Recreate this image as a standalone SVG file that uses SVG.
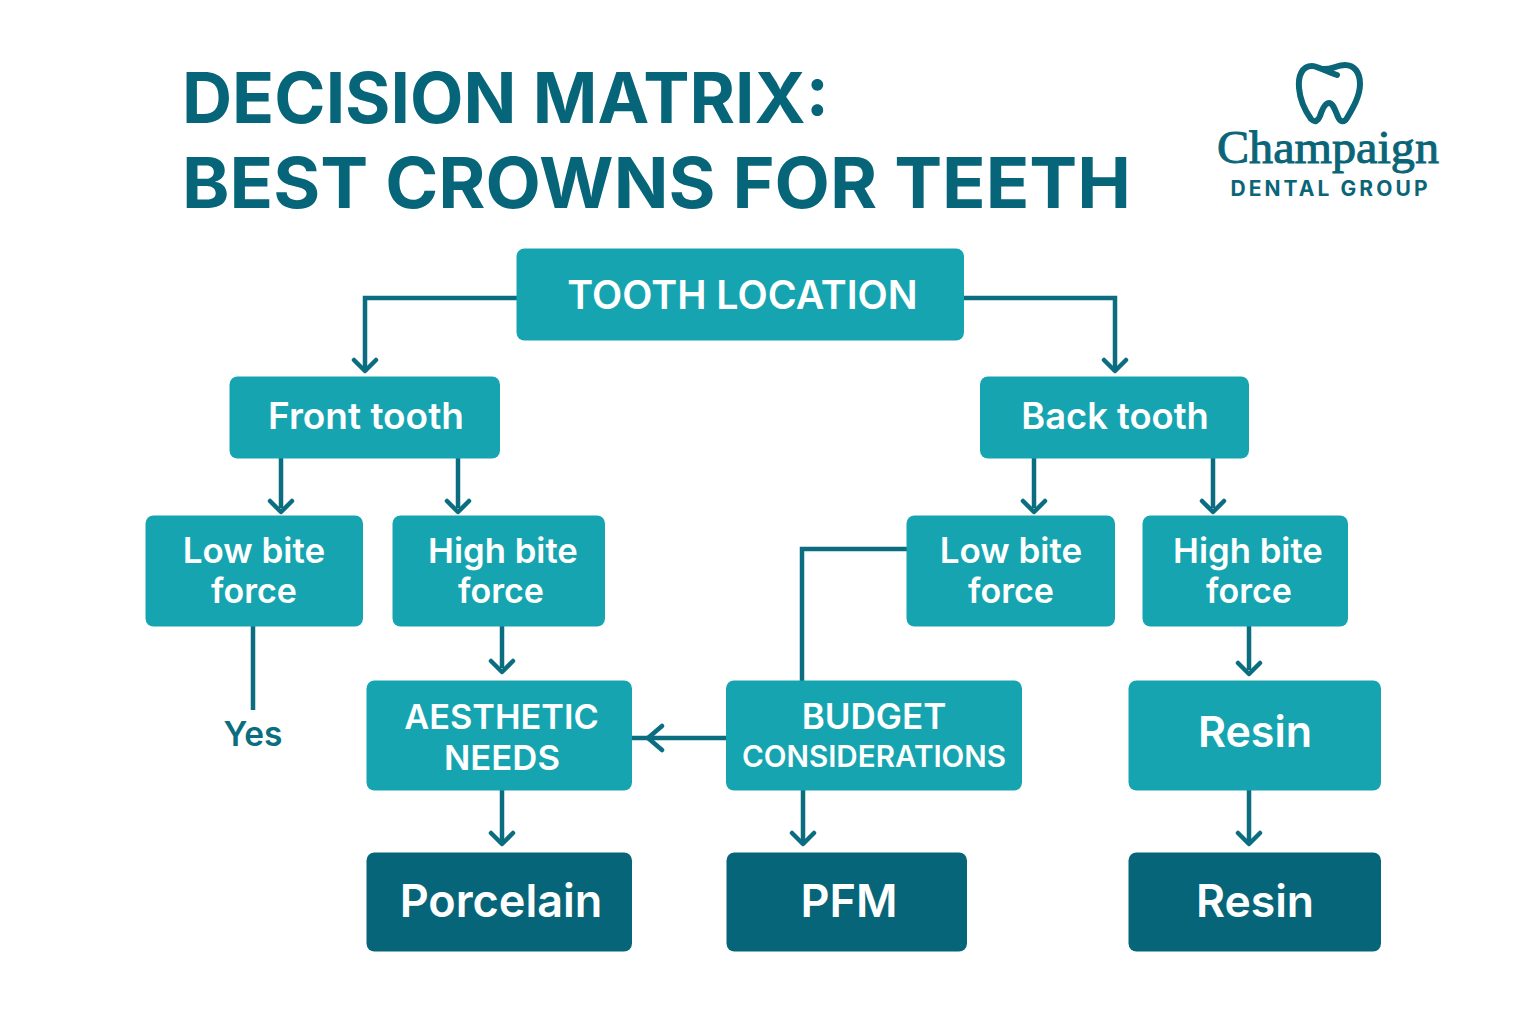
<svg xmlns="http://www.w3.org/2000/svg" width="1536" height="1017" viewBox="0 0 1536 1017">
<style>
.n{fill:#16a5b0}.d{fill:#066578}
.t{font-family:"Inter","Noto Sans",sans-serif;fill:#fff;text-anchor:middle;font-weight:600}
.c{fill:none;stroke:#0a6e80;stroke-width:4.5}
.a{fill:none;stroke:#0a6e80;stroke-width:4.5;stroke-linecap:round;stroke-linejoin:round}
.h{font-family:"Inter","Noto Sans",sans-serif;font-weight:700;font-size:70px;fill:#066578}
</style>
<rect width="1536" height="1017" fill="#fff"/>
<g id="title"><text class="h" x="182" y="123" textLength="647" lengthAdjust="spacingAndGlyphs">DECISION MATRIX:</text><text class="h" x="182" y="208" textLength="949" lengthAdjust="spacingAndGlyphs">BEST CROWNS FOR TEETH</text></g>
<g id="logo">
<path d="M1312 66C1302 66 1298 76 1299 88C1300 100 1306 112 1311 119C1315 123 1318 121 1320 116C1322 110 1325 103 1329 103C1333 103 1335 110 1338 117C1340 122 1344 123 1347 118C1353 108 1360 96 1360 84C1360 72 1354 65 1345 65C1337 65 1331 70 1322 69C1318 68 1316 66 1312 66ZM1322 69C1327 71 1334 74 1337 75" fill="none" stroke="#0a6578" stroke-width="6" stroke-linecap="round" stroke-linejoin="round"/>
<text x="1328" y="163" text-anchor="middle" font-family="'Liberation Serif',serif" font-size="47" fill="#0a6578" stroke="#0a6578" stroke-width="1" textLength="222" lengthAdjust="spacingAndGlyphs">Champaign</text>
<text x="1329" y="196" text-anchor="middle" font-family="Inter,'Noto Sans',sans-serif" font-weight="700" font-size="21" fill="#0a6578" textLength="197">DENTAL GROUP</text>
</g>
<g id="connectors">
<path class="c" d="M517 298H365V368M964 298H1115V368M281 458V508M458 458V508M1034 458V508M1213 458V508M502 626V668M1249 626V670M253 626V710M907 549H802V681M727 738H632M502 790V841M803 790V841M1249 790V841"/>
<path class="a" d="M354 360L365 371L376 360M1104 360L1115 371L1126 360M270 501L281 512L292 501M447 501L458 512L469 501M1023 501L1034 512L1045 501M1202 501L1213 512L1224 501M491 661L502 672L513 661M1238 663L1249 674L1260 663M491 833L502 844L513 833M792 833L803 844L814 833M1238 833L1249 844L1260 833M662 726L648 738L662 750"/>
</g>
<g id="tooth-location"><rect class="n" x="516.500" y="248.500" width="447.500" height="92" rx="8"/><text class="t" x="742.500" y="309" font-size="39.300">TOOTH LOCATION</text></g>
<g id="front-tooth"><rect class="n" x="229.500" y="376.500" width="270.500" height="82" rx="8"/><text class="t" x="366" y="429" font-size="37">Front tooth</text></g>
<g id="back-tooth"><rect class="n" x="980" y="376.500" width="269" height="82" rx="8"/><text class="t" x="1115" y="429" font-size="36.300">Back tooth</text></g>
<g id="low-front"><rect class="n" x="145.500" y="515.500" width="217.500" height="111" rx="8"/><text class="t" x="254" y="563" font-size="35">Low bite</text><text class="t" x="254" y="603" font-size="34">force</text></g>
<g id="high-front"><rect class="n" x="392.500" y="515.500" width="212.500" height="111" rx="8"/><text class="t" x="503" y="563" font-size="34.700">High bite</text><text class="t" x="501" y="603" font-size="34">force</text></g>
<g id="low-back"><rect class="n" x="906.500" y="515.500" width="208.500" height="111" rx="8"/><text class="t" x="1011" y="563" font-size="35">Low bite</text><text class="t" x="1011" y="603" font-size="34">force</text></g>
<g id="high-back"><rect class="n" x="1142.500" y="515.500" width="205.500" height="111" rx="8"/><text class="t" x="1248" y="563" font-size="34.700">High bite</text><text class="t" x="1249" y="603" font-size="34">force</text></g>
<g id="yes"><text x="253" y="746" text-anchor="middle" font-family="Inter,'Noto Sans',sans-serif" font-weight="600" font-size="33.500" fill="#0a6e80">Yes</text></g>
<g id="aesthetic"><rect class="n" x="366.500" y="680.500" width="265.500" height="110" rx="8"/><text class="t" x="501.500" y="729" font-size="34.300">AESTHETIC</text><text class="t" x="502" y="770" font-size="34.700">NEEDS</text></g>
<g id="budget"><rect class="n" x="726" y="680.500" width="296" height="110" rx="8"/><text class="t" x="874" y="729" font-size="35">BUDGET</text><text class="t" x="874" y="767" font-size="29.600">CONSIDERATIONS</text></g>
<g id="resin-mid"><rect class="n" x="1128.500" y="680.500" width="252.500" height="110" rx="8"/><text class="t" x="1255" y="747" font-size="43">Resin</text></g>
<g id="porcelain"><rect class="d" x="366.500" y="852.500" width="265.500" height="99" rx="8"/><text class="t" x="501" y="917" font-size="45">Porcelain</text></g>
<g id="pfm"><rect class="d" x="726.500" y="852.500" width="240.500" height="99" rx="8"/><text class="t" x="849" y="917" font-size="45">PFM</text></g>
<g id="resin"><rect class="d" x="1128.500" y="852.500" width="252.500" height="99" rx="8"/><text class="t" x="1255" y="917" font-size="44.500">Resin</text></g>
</svg>
